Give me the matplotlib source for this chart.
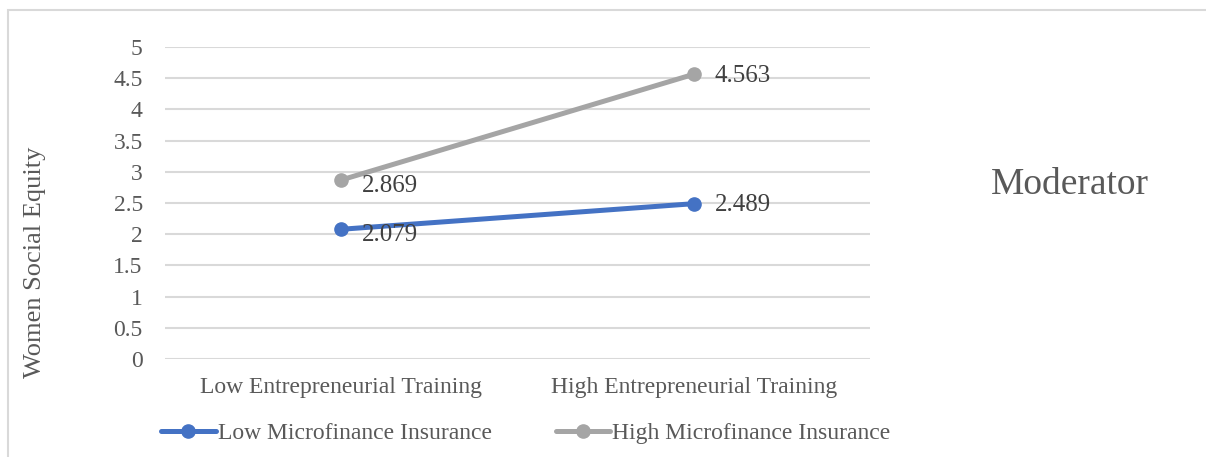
import matplotlib
matplotlib.use("Agg")
import matplotlib.pyplot as plt
from matplotlib.patches import Rectangle

plt.rcParams['font.family'] = ['Liberation Serif', 'DejaVu Serif']

categories = ["Low Entrepreneurial Training", "High Entrepreneurial Training"]
low_mf = [2.079, 2.489]
high_mf = [2.869, 4.563]
series_names = ["Low Microfinance Insurance", "High Microfinance Insurance"]
yticks = [0, 0.5, 1, 1.5, 2, 2.5, 3, 3.5, 4, 4.5, 5]
ytick_labels = ["0", "0.5", "1", "1.5", "2", "2.5", "3", "3.5", "4", "4.5", "5"]

blue = "#4472C4"
grey = "#A5A5A5"
txt = "#595959"

fig = plt.figure(figsize=(12.06, 4.57), dpi=100)
ax = fig.add_axes([165/1206, 1 - 359/457, (870-165)/1206, (359-47)/457])

# outer chart frame
fig.patches.append(Rectangle((8/1206, -0.05), 1.1, 1 - 10/457 + 0.05,
                             transform=fig.transFigure, fill=False,
                             edgecolor="#D9D9D9", linewidth=1.5))

x = list(range(len(categories)))
ax.plot(x, low_mf, color=blue, lw=3.6, marker="o", ms=9.5, label=series_names[0],
        solid_capstyle="round", zorder=3)
ax.plot(x, high_mf, color=grey, lw=3.6, marker="o", ms=9.5, label=series_names[1],
        solid_capstyle="round", zorder=3)

for xs, ys in [(x, low_mf), (x, high_mf)]:
    for i, (xi, yi) in enumerate(zip(xs, ys)):
        dy = -4 if i == 0 else -1
        ax.annotate(f"{yi:.3f}", (xi, yi), xytext=(15, dy), textcoords="offset points",
                    ha="left", va="center", fontsize=18, color="#404040")

ax.set_xlim(-0.5, 1.5)
ax.set_ylim(0, 5)
ax.set_yticks(yticks)
ax.set_yticklabels(ytick_labels)
ax.set_xticks(x)
ax.set_xticklabels(categories)
ax.tick_params(axis="both", length=0, labelsize=17, colors=txt)
ax.tick_params(axis="y", pad=16)
ax.tick_params(axis="x", pad=13)
ax.grid(axis="y", color="#D9D9D9", lw=1.5)
ax.set_axisbelow(True)
for s in ax.spines.values():
    s.set_visible(False)

fig.text(35/1206, 1 - 262/457, "Women Social Equity", rotation=90, ha="center", va="center",
         fontsize=19, color=txt)
fig.text(1070/1206, 1 - 185/457, "Moderator", ha="center", va="center",
         fontsize=27, color=txt)

fig.legend(loc="center", bbox_to_anchor=(526/1206, 1 - 433/457), ncol=2, frameon=False,
           fontsize=17, handlelength=2.3, handletextpad=0.1, columnspacing=2.7,
           labelcolor=txt)

fig.savefig("out.png", dpi=100)
